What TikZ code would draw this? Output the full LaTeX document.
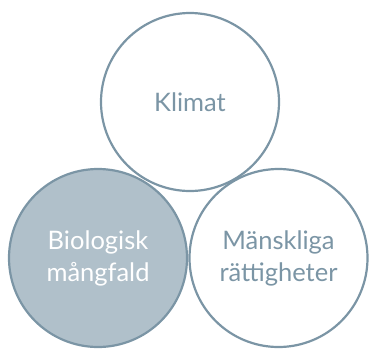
\documentclass[tikz,border=0pt]{standalone}
\usepackage{fontspec}
\setmainfont{Lato}
\definecolor{ringblue}{HTML}{7B95A5}
\definecolor{ringfill}{HTML}{B0C0CA}
\begin{document}
\begin{tikzpicture}[x=1pt,y=-1pt]
		\tikzset{area/.style = {shape=circle,draw=ringblue,line width=2.2pt,minimum size=178pt,inner sep=0pt,align=center,font=\fontsize{25.5}{32}\selectfont,text=ringblue}}
		\tikzset{focus/.style = {area,fill=ringfill,text=white}}
		\useasboundingbox (0,0) rectangle (370,349);
		\node[area] (klimat) at (190,102) {Klimat};
		\node[focus] (bio) at (98,258) {Biologisk\\mångfald};
		\node[area] (mr) at (278.5,258) {Mänskliga\\rättigheter};
	\end{tikzpicture}
\end{document}
